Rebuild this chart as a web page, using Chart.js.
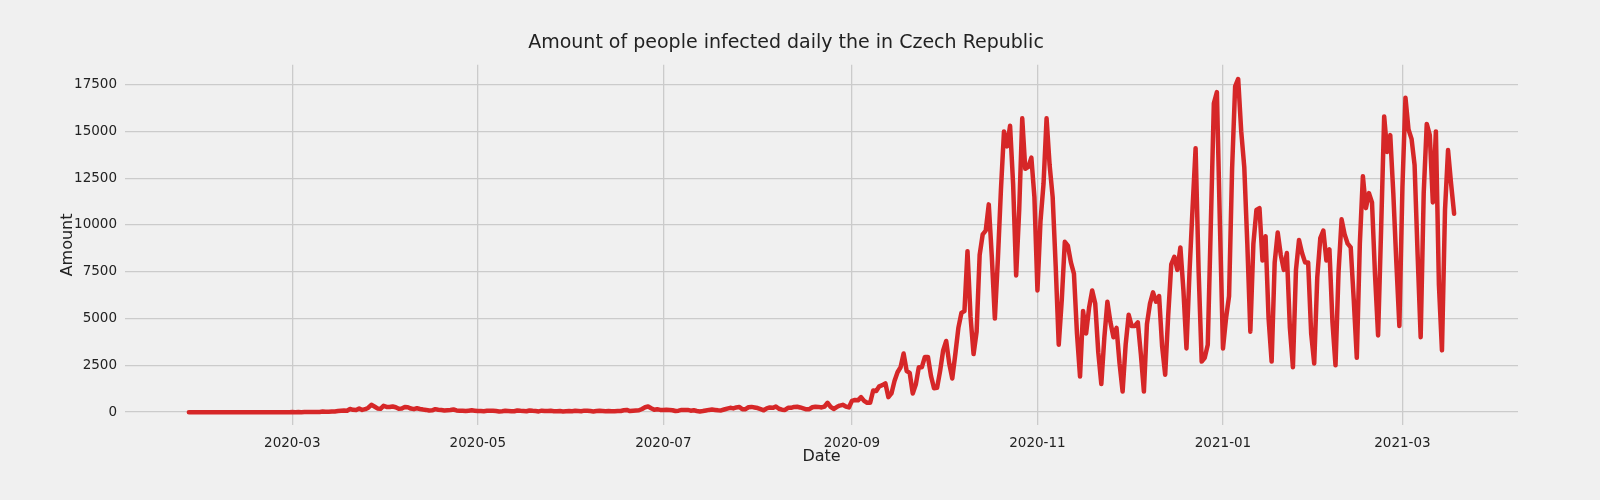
<!DOCTYPE html>
<html><head><meta charset="utf-8">
<script src="https://cdn.jsdelivr.net/npm/chart.js@4"></script>
<style>body{margin:0;background:#f0f0f0}canvas{display:block}</style>
</head><body><canvas id="c" width="1600" height="500"></canvas>
<script>
const startDate = "2020-01-27";
const jan_feb2020 = new Array(34).fill(0);
const mar2020 = [3,0,2,0,7,7,7,6,8,9,31,22,22,36,39,59,76,85,77,170,125,114,200,120,160,240,390,300,200,180,340];
const apr2020 = [280,270,300,260,180,190,270,260,190,160,210,170,140,120,90,100,160,130,110,90,100,110,140,90,80,80,60,80,100,80];
const may2020 = [60,60,50,70,80,70,60,40,50,70,60,50,50,90,70,60,50,90,70,60,40,80,60,60,70,50,50,60,40,50,60];
const jun2020 = [50,70,60,50,80,70,60,40,60,70,60,50,60,50,50,60,60,100,120,60,80,90,100,170,260,300,210,130,150,120];
const jul2020 = [110,130,120,100,60,80,120,110,120,80,100,60,40,60,90,120,140,120,100,90,140,190,230,200,250,280,150,160,260,280,250];
const aug2020 = [220,160,100,200,250,230,300,180,130,120,230,230,280,290,250,200,150,160,260,290,280,250,300,500,280,170,270,350,390,300,250];
const sep2020 = [600,650,630,800,600,500,500,1160,1130,1380,1440,1540,800,1000,1660,2130,2400,3130,2200,2100,1000,1470,2400,2400,2950,2950,1930,1280,1300,2200];
const oct2020 = [3300,3800,2600,1800,3100,4500,5300,5400,8600,5100,3100,4300,8400,9500,9700,11100,8300,5000,8200,11900,15000,14200,15300,12200,7300,10800,15700,13000,13100,13600,11500];
const nov2020 = [6500,10200,12200,15700,13200,11500,7800,3600,6000,9100,8900,8000,7400,4200,1900,5400,4200,5600,6500,5800,3200,1500,4000,5900,4800,4000,4500,2600,1100,3600];
const dec2020 = [5200,4600,4600,4800,3100,1100,4700,5800,6400,5900,6200,3500,2000,5200,7900,8300,7600,8800,6500,3400,7500,10900,14100,7500,2700,2900,3600,10000,16500,17100,10000];
const jan2021 = [3400,5000,6200,13000,17400,17800,15000,13100,9000,4300,9000,10800,10900,8100,9400,5000,2700,8000,9600,8400,7600,8500,4500,2400,7600,9200,8500,8000,8000,4200,2600];
const feb2021 = [7200,9300,9700,8100,8700,4800,2500,7500,10300,9500,9000,8800,6000,2900,9000,12600,10900,11700,11200,7300,4100,9800,15800,13900,14800,11700,8000,4600];
const mar2021 = [12000,16800,15100,14600,13200,8400,4000,11700,15400,14800,11200,15000,6800,3300,10800,14000,12200,10600];
const xTickDates = ["2020-03","2020-05","2020-07","2020-09","2020-11","2021-01","2021-03"];
const yTicks = [0,2500,5000,7500,10000,12500,15000,17500];

const values = [].concat(jan_feb2020,mar2020,apr2020,may2020,jun2020,jul2020,aug2020,sep2020,oct2020,nov2020,dec2020,jan2021,feb2021,mar2021);
const t0 = Date.UTC(2020,0,27);
const DAY = 86400000;
const xTickIdx = xTickDates.map(s=>{const [y,m]=s.split('-').map(Number);return Math.round((Date.UTC(y,m-1,1)-t0)/DAY);});
const pts = values.map((v,i)=>({x:i,y:v}));

new Chart(document.getElementById('c'),{
 type:'line',
 data:{datasets:[{data:pts,borderColor:'#d62728',borderWidth:4.5,pointRadius:0,tension:0,borderJoinStyle:'round',borderCapStyle:'round'}]},
 options:{responsive:false,animation:false,
  layout:{padding:{left:54,right:82,top:0,bottom:30}},
  plugins:{legend:{display:false},tooltip:{enabled:false},
   title:{display:true,text:'Amount of people infected daily the in Czech Republic',color:'#222',font:{family:'DejaVu Sans',size:19,weight:'normal'},padding:{top:32,bottom:10}}},
  scales:{
   x:{type:'linear',min:-21,max:437,
     afterBuildTicks:s=>{s.ticks=xTickIdx.map(v=>({value:v}));},
     afterFit:s=>{s.height=45;},
     ticks:{autoSkip:false,maxRotation:0,color:'#222',font:{family:'DejaVu Sans',size:13.5},padding:10,
       callback:v=>{const i=xTickIdx.indexOf(v);return i>=0?xTickDates[i]:'';}},
     grid:{color:'#cbcbcb',lineWidth:1.3,drawTicks:false},border:{display:false},
     title:{display:true,text:'Date',color:'#222',font:{family:'DejaVu Sans',size:16},padding:{top:0}}},
   y:{min:-687,max:18557,
     afterBuildTicks:s=>{s.ticks=yTicks.map(v=>({value:v}));},
     afterFit:s=>{s.width=71;},
     ticks:{color:'#222',font:{family:'DejaVu Sans',size:13.5},padding:8,callback:v=>String(v)},
     grid:{color:'#cbcbcb',lineWidth:1.3,drawTicks:false},border:{display:false},
     title:{display:true,text:'Amount',color:'#222',font:{family:'DejaVu Sans',size:16},padding:{bottom:0}}}
  }}
});
</script></body></html>
